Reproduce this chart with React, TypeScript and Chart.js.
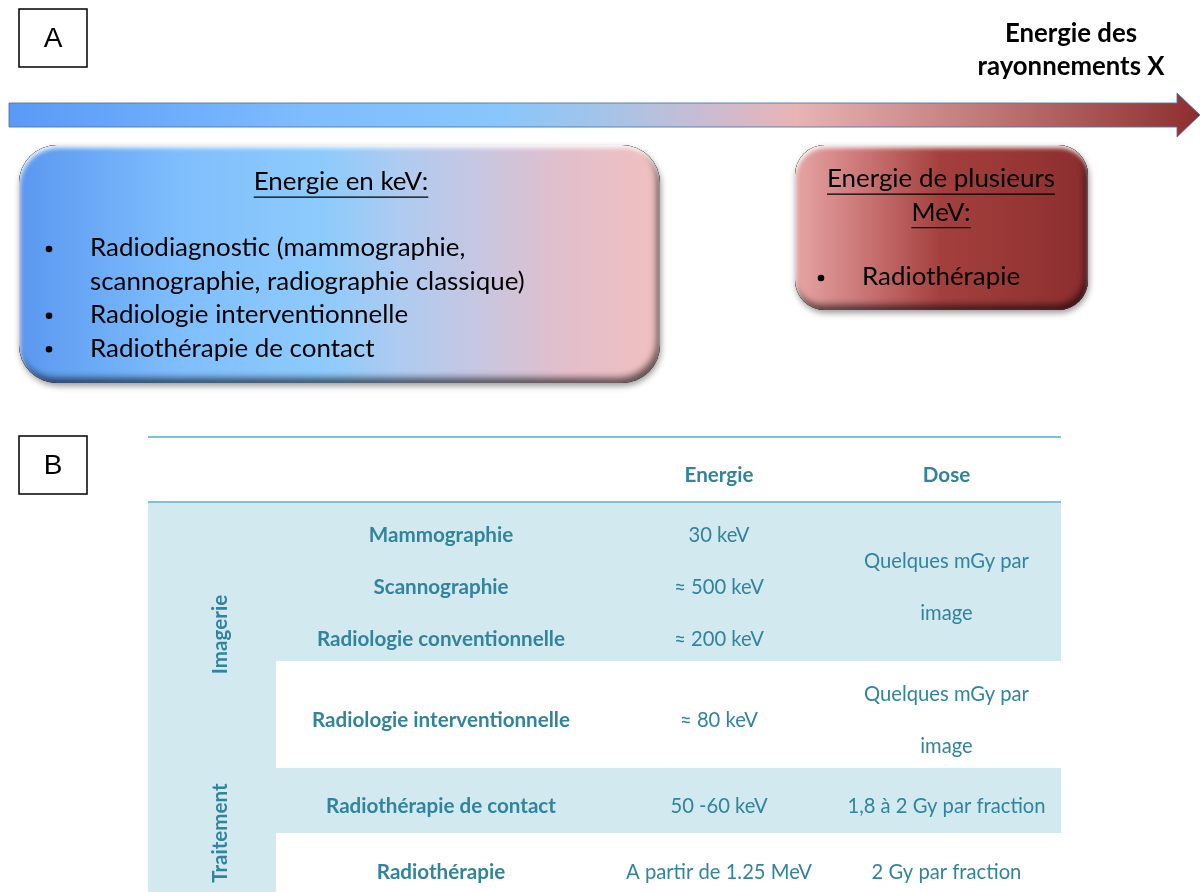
import { useEffect, useRef } from "react";
import { Chart, registerables } from "chart.js";

Chart.register(...registerables);

// ---------- content ----------
const panelLetters = ["A", "B"];
const axisTitleLines = ["Energie des", "rayonnements X"];
const lowEnergyTitle = "Energie en keV:";
const lowEnergyItems = [
  ["Radiodiagnostic (mammographie,", "scannographie, radiographie classique)"],
  ["Radiologie interventionnelle"],
  ["Radiothérapie de contact"],
];
const highEnergyTitle = ["Energie de plusieurs", "MeV:"];
const highEnergyItems = ["Radiothérapie"];

const columnHeaders = ["", "", "Energie", "Dose"];
const groupLabels = ["Imagerie", "Traitement"];
const groupBlockCounts = [2, 2];
const blockLabels = [
  ["Mammographie", "Scannographie", "Radiologie conventionnelle"],
  ["Radiologie interventionnelle"],
  ["Radiothérapie de contact"],
  ["Radiothérapie"],
];
const blockEnergies = [
  ["30 keV", "≈ 500 keV", "≈ 200 keV"],
  ["≈ 80 keV"],
  ["50 -60 keV"],
  ["A partir de 1.25 MeV"],
];
const blockDoses = [
  ["Quelques mGy par", "image"],
  ["Quelques mGy par", "image"],
  ["1,8 à 2 Gy par fraction"],
  ["2 Gy par fraction"],
];

// ---------- layout (data units = pixels of the 1200x892 frame) ----------
const letterBoxes = [
  [19, 9],
  [19, 436],
];
const tableCols = [148, 276, 606, 832, 1061];
const tableTop = 437;
const headerBottom = 502;
const blockHeights = [159, 106, 66, 66];
const blockShaded = [true, false, true, false];

const FONT = "Lato, 'Open Sans', sans-serif";
const TEAL = "#31849b";
const SHADE = "#d2e9f0";
const RULE = "#7cc2d4";

function fitSize(ctx: CanvasRenderingContext2D, text: string, weight: string, target: number) {
  ctx.font = `${weight} 100px ${FONT}`;
  return (100 * target) / ctx.measureText(text).width;
}

function rrPath(ctx: CanvasRenderingContext2D, x: number, y: number, w: number, h: number, r: number) {
  ctx.moveTo(x + r, y);
  ctx.arcTo(x + w, y, x + w, y + h, r);
  ctx.arcTo(x + w, y + h, x, y + h, r);
  ctx.arcTo(x, y + h, x, y, r);
  ctx.arcTo(x, y, x + w, y, r);
  ctx.closePath();
}

function bevelBox(
  ctx: CanvasRenderingContext2D,
  x: number, y: number, w: number, h: number, r: number,
  stops: [number, string][]
) {
  const g = ctx.createLinearGradient(x, 0, x + w, 0);
  stops.forEach(([o, c]) => g.addColorStop(o, c));
  ctx.save();
  ctx.shadowColor = "rgba(0,0,0,0.4)";
  ctx.shadowBlur = 6;
  ctx.shadowOffsetX = 1;
  ctx.shadowOffsetY = 3;
  ctx.beginPath();
  rrPath(ctx, x, y, w, h, r);
  ctx.fillStyle = g;
  ctx.fill();
  ctx.restore();

  const inner = (color: string, ox: number, oy: number, blur: number) => {
    ctx.save();
    ctx.beginPath();
    rrPath(ctx, x, y, w, h, r);
    ctx.clip();
    ctx.beginPath();
    ctx.rect(x - 100, y - 100, w + 200, h + 200);
    rrPath(ctx, x, y, w, h, r);
    ctx.fillStyle = "#000";
    ctx.shadowColor = color;
    ctx.shadowBlur = blur;
    ctx.shadowOffsetX = ox;
    ctx.shadowOffsetY = oy;
    ctx.fill("evenodd");
    ctx.restore();
  };
  inner("rgba(0,0,0,0.6)", -3, -5, 7);
  inner("rgba(255,255,255,0.9)", 1, 3, 4);
}

function drawDiagram(chart: Chart) {
  const ctx = chart.ctx;
  const xs = chart.scales.x;
  const ys = chart.scales.y;
  const X = (v: number) => xs.getPixelForValue(v);
  const Y = (v: number) => ys.getPixelForValue(v);

  ctx.save();
  ctx.fillStyle = "#fff";
  ctx.fillRect(X(0), Y(0), X(1200) - X(0), Y(892) - Y(0));

  // panel letters
  panelLetters.forEach((L, i) => {
    const [bx, by] = letterBoxes[i];
    ctx.strokeStyle = "#000";
    ctx.lineWidth = 1.5;
    ctx.strokeRect(X(bx), Y(by), X(bx + 68) - X(bx), Y(by + 58) - Y(by));
    ctx.fillStyle = "#000";
    ctx.font = `28px 'Liberation Sans', Arial, sans-serif`;
    ctx.textAlign = "center";
    ctx.textBaseline = "middle";
    ctx.fillText(L, X(bx + 34), Y(by + 30));
  });

  // arrow
  {
    const g = ctx.createLinearGradient(X(9), 0, X(1200), 0);
    g.addColorStop(0, "#5a9af6");
    g.addColorStop(0.245, "#7dbcff");
    g.addColorStop(0.41, "#88c6fc");
    g.addColorStop(0.5, "#a4c4e8");
    g.addColorStop(0.58, "#c8bcd4");
    g.addColorStop(0.66, "#e8b4b4");
    g.addColorStop(0.82, "#c07878");
    g.addColorStop(1, "#8e2e2e");
    ctx.beginPath();
    ctx.moveTo(X(9), Y(103));
    ctx.lineTo(X(1177), Y(103));
    ctx.lineTo(X(1177), Y(93));
    ctx.lineTo(X(1200), Y(115));
    ctx.lineTo(X(1177), Y(137));
    ctx.lineTo(X(1177), Y(127));
    ctx.lineTo(X(9), Y(127));
    ctx.closePath();
    ctx.fillStyle = g;
    ctx.fill();
    ctx.strokeStyle = "rgba(80,120,170,0.9)";
    ctx.lineWidth = 1;
    ctx.stroke();
  }

  // axis title
  {
    const s = fitSize(ctx, axisTitleLines[1], "bold", 187);
    ctx.font = `bold ${s}px ${FONT}`;
    ctx.fillStyle = "#000";
    ctx.textAlign = "center";
    ctx.textBaseline = "middle";
    axisTitleLines.forEach((t, i) => ctx.fillText(t, X(1071), Y(34 + i * 33)));
  }

  const underlineText = (t: string, cx: number, cy: number, size: number) => {
    ctx.fillText(t, cx, cy);
    const w = ctx.measureText(t).width;
    ctx.beginPath();
    ctx.moveTo(cx - w / 2, cy + size * 0.58);
    ctx.lineTo(cx + w / 2, cy + size * 0.58);
    ctx.lineWidth = 1.3;
    ctx.strokeStyle = "#000";
    ctx.stroke();
  };
  const bullet = (cx: number, cy: number) => {
    ctx.beginPath();
    ctx.arc(cx, cy, 3.3, 0, Math.PI * 2);
    ctx.fillStyle = "#000";
    ctx.fill();
  };

  // low-energy box
  bevelBox(ctx, X(19), Y(145), X(660) - X(19), Y(383) - Y(145), 38, [
    [0, "#5a98f0"],
    [0.25, "#7fbefd"],
    [0.48, "#8ecbfc"],
    [0.6, "#b0cbf0"],
    [0.72, "#c8c6e0"],
    [0.85, "#e2bfcc"],
    [1, "#f2bfbf"],
  ]);
  const bodySize = fitSize(ctx, lowEnergyItems[0][1], "normal", 435);
  ctx.font = `${bodySize}px ${FONT}`;
  ctx.fillStyle = "#000";
  ctx.textAlign = "center";
  ctx.textBaseline = "middle";
  underlineText(lowEnergyTitle, X(341), Y(182), bodySize);
  {
    let line = 0;
    lowEnergyItems.forEach((item) => {
      item.forEach((t, j) => {
        const yy = Y(248 + line * 33.4);
        if (j === 0) bullet(X(49), yy + 1);
        ctx.fillStyle = "#000";
        ctx.textAlign = "left";
        ctx.fillText(t, X(90), yy);
        line++;
      });
    });
  }

  // high-energy box
  bevelBox(ctx, X(795), Y(145), X(1088) - X(795), Y(310) - Y(145), 30, [
    [0, "#e7a5a5"],
    [0.25, "#c87272"],
    [0.5, "#a3403d"],
    [1, "#8c2e2e"],
  ]);
  ctx.font = `${bodySize}px ${FONT}`;
  ctx.fillStyle = "#000";
  ctx.textAlign = "center";
  highEnergyTitle.forEach((t, i) => underlineText(t, X(941), Y(179 + i * 33.5), bodySize));
  highEnergyItems.forEach((t, i) => {
    const yy = Y(277 + i * 33.4);
    bullet(X(821), yy + 1);
    ctx.fillStyle = "#000";
    ctx.textAlign = "left";
    ctx.fillText(t, X(862), yy);
  });

  // ---------- table ----------
  const L = X(tableCols[0]);
  const R = X(tableCols[tableCols.length - 1]);
  const blockTops: number[] = [];
  let acc = headerBottom;
  blockHeights.forEach((h) => {
    blockTops.push(acc);
    acc += h;
  });
  ctx.fillStyle = SHADE;
  ctx.fillRect(L, Y(headerBottom), X(tableCols[1]) - L, Y(acc) - Y(headerBottom));
  blockHeights.forEach((h, b) => {
    if (!blockShaded[b]) return;
    ctx.fillStyle = SHADE;
    ctx.fillRect(X(tableCols[1]), Y(blockTops[b]), R - X(tableCols[1]), Y(blockTops[b] + h) - Y(blockTops[b]));
  });
  ctx.strokeStyle = "rgba(255,255,255,0.9)";
  ctx.lineWidth = 1;
  blockTops.slice(1).forEach((t) => {
    ctx.beginPath();
    ctx.moveTo(X(tableCols[1]), Y(t) + 0.5);
    ctx.lineTo(R, Y(t) + 0.5);
    ctx.stroke();
  });
  ctx.strokeStyle = RULE;
  ctx.lineWidth = 2;
  [tableTop, headerBottom].forEach((yy) => {
    ctx.beginPath();
    ctx.moveTo(L, Y(yy));
    ctx.lineTo(R, Y(yy));
    ctx.stroke();
  });

  const boldSize = fitSize(ctx, "Radiologie conventionnelle", "bold", 248);
  const regSize = fitSize(ctx, "Quelques mGy par", "normal", 165);
  const colCenter = (c: number) => (X(tableCols[c]) + X(tableCols[c + 1])) / 2;
  ctx.fillStyle = TEAL;
  ctx.textAlign = "center";
  ctx.textBaseline = "middle";
  ctx.font = `bold ${boldSize}px ${FONT}`;
  columnHeaders.forEach((h, c) => {
    if (h) ctx.fillText(h, colCenter(c), Y(475));
  });

  const pitch = 52;
  blockHeights.forEach((h, b) => {
    const mid = blockTops[b] + h / 2 + 6;
    const put = (lines: string[], c: number, weight: string, size: number) => {
      ctx.font = `${weight} ${size}px ${FONT}`;
      lines.forEach((t, i) => {
        ctx.fillText(t, colCenter(c), Y(mid + (i - (lines.length - 1) / 2) * pitch));
      });
    };
    put(blockLabels[b], 1, "bold", boldSize);
    put(blockEnergies[b], 2, "normal", regSize);
    put(blockDoses[b], 3, "normal", regSize);
  });

  {
    let bi = 0;
    ctx.font = `bold ${boldSize}px ${FONT}`;
    groupLabels.forEach((g, gi) => {
      const top = blockTops[bi];
      const n = groupBlockCounts[gi];
      const bottom = blockTops[bi + n - 1] + blockHeights[bi + n - 1];
      bi += n;
      ctx.save();
      ctx.translate(X(220), Y((top + bottom) / 2));
      ctx.rotate(-Math.PI / 2);
      ctx.fillText(g, 0, 0);
      ctx.restore();
    });
  }
  ctx.restore();
}

export default function App() {
  const ref = useRef<HTMLCanvasElement>(null);
  useEffect(() => {
    document.body.style.margin = "0";
    const diagram = {
      id: "diagram",
      afterDraw(chart: Chart) {
        drawDiagram(chart);
      },
    };
    const chart = new Chart(ref.current!, {
      type: "scatter",
      data: { datasets: [] },
      options: {
        animation: false,
        responsive: false,
        maintainAspectRatio: false,
        layout: { padding: 0 },
        plugins: { legend: { display: false }, tooltip: { enabled: false } },
        scales: {
          x: { type: "linear", min: 0, max: 1200, display: false },
          y: { type: "linear", min: 0, max: 892, reverse: true, display: false },
        },
      },
      plugins: [diagram as any],
    });
    return () => chart.destroy();
  }, []);
  return <canvas ref={ref} width={1200} height={892} style={{ display: "block" }} />;
}
